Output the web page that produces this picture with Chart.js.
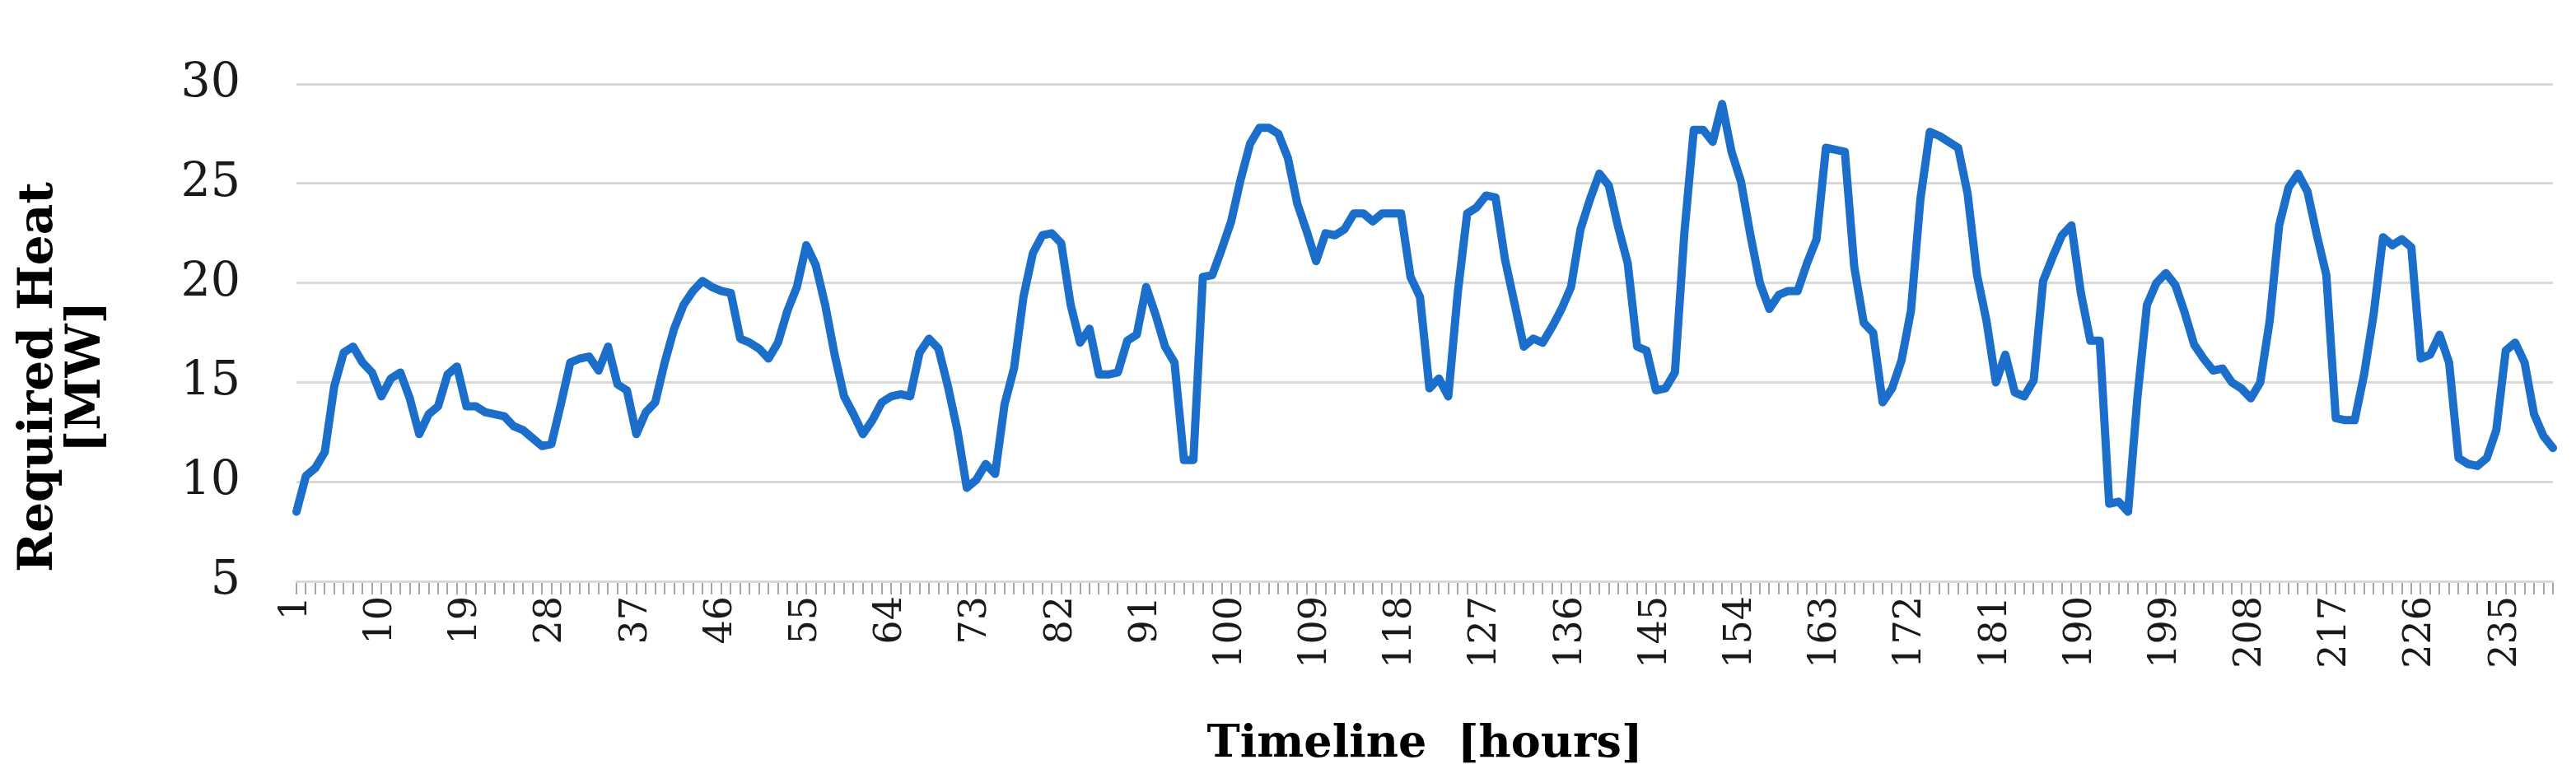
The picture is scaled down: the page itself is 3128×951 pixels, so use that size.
<!DOCTYPE html>
<html>
<head>
<meta charset="utf-8">
<script src="https://cdn.jsdelivr.net/npm/chart.js@4.4.1/dist/chart.umd.min.js"></script>
<style>
  html, body { margin: 0; padding: 0; background: #fff; }
  #wrap { width: 3128px; height: 951px; position: relative; }
</style>
</head>
<body>
<div id="wrap"><canvas id="chart1"></canvas></div>
<script>
// hours 1..240 on the x axis
const hours = [];
for (let h = 1; h <= 240; h++) hours.push(String(h));

// required heat per hour [MW]
const heatMW = [
  8.5, 10.3, 10.7, 11.5, 14.8, 16.5, 16.8, 16.0, 15.5, 14.3,
  15.2, 15.5, 14.2, 12.4, 13.4, 13.8, 15.4, 15.8, 13.8, 13.8,
  13.5, 13.4, 13.3, 12.8, 12.6, 12.2, 11.8, 11.9, 13.9, 16.0,
  16.2, 16.3, 15.6, 16.8, 14.9, 14.6, 12.4, 13.5, 14.0, 16.0,
  17.7, 18.9, 19.6, 20.1, 19.8, 19.6, 19.5, 17.2, 17.0, 16.7,
  16.2, 17.0, 18.6, 19.8, 21.9, 20.9, 18.9, 16.4, 14.3, 13.4,
  12.4, 13.1, 14.0, 14.3, 14.4, 14.3, 16.5, 17.2, 16.7, 14.8,
  12.6, 9.7, 10.1, 10.9, 10.4, 13.9, 15.7, 19.3, 21.5, 22.4,
  22.5, 22.0, 18.9, 17.0, 17.7, 15.4, 15.4, 15.5, 17.1, 17.4,
  19.8, 18.4, 16.8, 16.0, 11.1, 11.1, 20.3, 20.4, 21.7, 23.1,
  25.2, 27.0, 27.8, 27.8, 27.5, 26.3, 24.0, 22.6, 21.1, 22.5,
  22.4, 22.7, 23.5, 23.5, 23.1, 23.5, 23.5, 23.5, 20.3, 19.3,
  14.7, 15.2, 14.3, 19.5, 23.5, 23.8, 24.4, 24.3, 21.2, 19.0,
  16.8, 17.2, 17.0, 17.8, 18.7, 19.8, 22.7, 24.2, 25.5, 24.9,
  22.8, 21.0, 16.8, 16.6, 14.6, 14.7, 15.5, 22.5, 27.7, 27.7,
  27.1, 29.0, 26.6, 25.1, 22.4, 20.0, 18.7, 19.4, 19.6, 19.6,
  21.0, 22.2, 26.8, 26.7, 26.6, 20.8, 18.0, 17.5, 14.0, 14.7,
  16.1, 18.6, 24.2, 27.6, 27.4, 27.1, 26.8, 24.5, 20.4, 18.1,
  15.0, 16.4, 14.5, 14.3, 15.1, 20.1, 21.3, 22.4, 22.9, 19.5,
  17.1, 17.1, 8.9, 9.0, 8.5, 14.3, 18.9, 20.0, 20.5, 19.9,
  18.5, 16.9, 16.2, 15.6, 15.7, 15.0, 14.7, 14.2, 15.0, 18.1,
  22.9, 24.8, 25.5, 24.6, 22.4, 20.4, 13.2, 13.1, 13.1, 15.4,
  18.4, 22.3, 21.9, 22.2, 21.8, 16.2, 16.4, 17.4, 16.0, 11.2,
  10.9, 10.8, 11.2, 12.6, 16.6, 17.0, 16.0, 13.4, 12.3, 11.7
];

// labelled hours on the x axis
const xTickLabels = ['1', '10', '19', '28', '37', '46', '55', '64', '73', '82',
  '91', '100', '109', '118', '127', '136', '145', '154', '163', '172',
  '181', '190', '199', '208', '217', '226', '235'];

const yTicks = [5, 10, 15, 20, 25, 30];

// rotated two-line title of the y axis
const yTitlePlugin = {
  id: 'yTitle',
  afterDraw(chart) {
    const ctx = chart.ctx;
    ctx.save();
    ctx.fillStyle = '#000';
    ctx.font = 'bold 58px "DejaVu Serif"';
    ctx.textAlign = 'center';
    ctx.textBaseline = 'middle';
    [['Required Heat', 48], ['[MW]', 106]].forEach(([txt, x]) => {
      ctx.save();
      ctx.translate(x, 458);
      ctx.rotate(-Math.PI / 2);
      ctx.fillText(txt, 0, 0);
      ctx.restore();
    });
    ctx.restore();
  }
};

const ctx = document.getElementById('chart1').getContext('2d');
new Chart(ctx, {
  type: 'line',
  data: {
    labels: hours,
    datasets: [{
      label: 'Required Heat',
      data: heatMW,
      borderColor: '#1b6fcb',
      borderWidth: 10,
      pointRadius: 0,
      tension: 0,
      borderJoinStyle: 'round',
      borderCapStyle: 'round',
      fill: false
    }]
  },
  options: {
    responsive: true,
    maintainAspectRatio: false,
    devicePixelRatio: 1,
    animation: false,
    layout: { padding: { top: 50, right: 28, bottom: 0, left: 0 } },
    plugins: {
      legend: { display: false },
      tooltip: { enabled: false }
    },
    scales: {
      x: {
        offset: false,
        afterFit: s => { s.height = 245; s.paddingLeft = 0; s.paddingRight = 0; },
        grid: { drawOnChartArea: false, drawTicks: true, tickLength: 16, color: '#a6a6a6', lineWidth: 2 },
        border: { display: true, color: '#d9d9d9', width: 3 },
        ticks: {
          autoSkip: false,
          minRotation: 90,
          maxRotation: 90,
          padding: 2,
          color: '#1a1a1a',
          font: { family: '"DejaVu Serif"', size: 46 },
          callback: function (v) {
            const lab = this.getLabelForValue(v);
            return xTickLabels.includes(lab) ? lab : '';
          }
        },
        title: {
          display: true,
          text: 'Timeline  [hours]',
          color: '#000',
          font: { family: '"DejaVu Serif"', size: 54, weight: 'bold' },
          padding: { top: 0, bottom: 14 }
        }
      },
      y: {
        min: 5,
        max: 30,
        afterFit: s => { s.width = 360; },
        afterBuildTicks: s => { s.ticks = yTicks.map(v => ({ value: v })); },
        grid: { color: '#d9d9d9', lineWidth: 3, drawTicks: false },
        border: { display: false },
        ticks: {
          padding: 68,
          color: '#1a1a1a',
          font: { family: '"DejaVu Serif"', size: 57 }
        }
      }
    }
  },
  plugins: [yTitlePlugin]
});
</script>
</body>
</html>
